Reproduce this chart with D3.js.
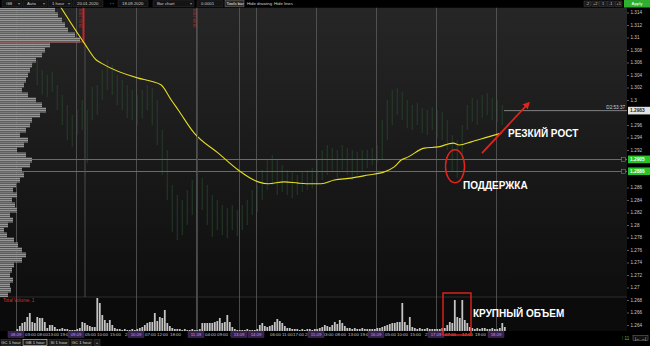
<!DOCTYPE html>
<html>
<head>
<meta charset="utf-8">
<title>GB 1 hour</title>
<script src="https://cdn.jsdelivr.net/npm/d3@7"></script>
<style>
  html, body { margin: 0; padding: 0; background: #000; }
  svg { display: block; font-family: "Liberation Sans", Arial, sans-serif; }
</style>
</head>
<body>
<svg id="chart" width="650" height="346"></svg>
<script>
// ---------- data ----------

// hourly bars, index 0 = 08.09 00:00; price bars every 2 hours
var barIndex = d3.range(0, 196, 2);
var barHigh = [1.3152,1.3144,1.3128,1.3096,1.3064,1.3048,1.3040,1.3045,1.3024,1.3008,
               1.2992,1.2976,1.2984,1.3000,1.2984,1.3021,1.3024,1.3048,1.3064,1.3056,
               1.3040,1.3032,1.3024,1.3016,1.3008,1.3016,1.3024,1.3019,1.3000,1.2952,
               1.2920,1.2864,1.2848,1.2840,1.2856,1.2872,1.2880,1.2875,1.2864,1.2848,
               1.2840,1.2832,1.2827,1.2832,1.2824,1.2832,1.2840,1.2856,1.2864,1.2888,
               1.2904,1.2912,1.2904,1.2896,1.2888,1.2885,1.2880,1.2885,1.2888,1.2891,
               1.2904,1.2920,1.2928,1.2923,1.2920,1.2928,1.2923,1.2920,1.2917,1.2920,
               1.2920,1.2923,1.2928,1.2968,1.3000,1.3016,1.3019,1.3013,1.3000,1.2992,
               1.2995,1.2987,1.2984,1.2989,1.2984,1.2981,1.2968,1.2944,1.2936,1.2960,
               1.2992,1.3003,1.3000,1.3008,1.3011,1.3003,1.3000,1.2992];
var barLow  = [1.3120,1.3112,1.3088,1.3056,1.3024,1.3008,1.3005,1.3013,1.2984,1.2960,
               1.2936,1.2925,1.2944,1.2952,1.2899,1.2968,1.2976,1.3000,1.3016,1.3008,
               1.2992,1.2984,1.2971,1.2968,1.2960,1.2971,1.2984,1.2960,1.2928,1.2880,
               1.2840,1.2789,1.2776,1.2784,1.2800,1.2816,1.2832,1.2824,1.2800,1.2781,
               1.2792,1.2784,1.2779,1.2792,1.2782,1.2792,1.2800,1.2816,1.2821,1.2840,
               1.2856,1.2864,1.2848,1.2853,1.2848,1.2843,1.2848,1.2853,1.2856,1.2859,
               1.2864,1.2872,1.2880,1.2885,1.2875,1.2888,1.2880,1.2872,1.2880,1.2885,
               1.2891,1.2896,1.2901,1.2904,1.2936,1.2960,1.2976,1.2968,1.2955,1.2952,
               1.2960,1.2947,1.2944,1.2952,1.2939,1.2936,1.2920,1.2885,1.2875,1.2904,
               1.2952,1.2965,1.2960,1.2971,1.2976,1.2968,1.2965,1.2960];

// hourly total volume (thousands)
var volume = [2,5,8,9,14,18,9,8,14,13,13,9,3,6,6,4,2,2,3,2,2,1,1,1,
              2,3,9,8,6,5,4,4,33,28,16,11,8,11,6,3,2,2,1,2,1,1,2,1,
              2,3,4,6,8,9,9,18,10,14,13,21,8,5,3,2,2,2,1,2,1,1,2,1,
              1,2,8,8,8,8,8,9,10,13,8,9,16,9,4,2,1,1,1,1,2,1,1,1,
              2,6,8,5,4,5,6,9,12,10,8,5,3,3,2,2,2,1,2,1,2,2,1,2,
              2,3,4,6,5,4,6,9,7,11,8,5,3,3,2,3,2,2,3,2,2,2,2,2,
              3,3,4,5,6,7,8,8,9,9,28,9,6,14,4,3,2,3,2,2,3,2,2,2,
              2,2,3,3,6,9,8,31,14,13,31,11,8,4,3,2,3,2,3,3,2,2,3,2,
              2,3,8,4];

// moving average (yellow)
var maIdx   = [15.6,26.8,31.6,33.6,48.4,53.6,57.6,61.6,64.4,70.8,80.4,88.4,96.4,100.4,106.8,112.4,
               117.6,121.6,126.8,133.6,140.4,146.8,150.8,153.6,156.4,162.8,168.4,174.4,176.8,181.6,188.4,193.6];
var maPrice = [1.3160,1.3091,1.3064,1.3059,1.3035,1.3030,1.3024,1.3000,1.2984,1.2947,1.2915,1.2888,1.2869,1.2866,1.2869,1.2867,
               1.2866,1.2866,1.2872,1.2875,1.2880,1.2885,1.2893,1.2904,1.2909,1.2923,1.2925,1.2931,1.2928,1.2933,1.2941,1.2947];

// volume profile on the left, buckets of 0.0008 starting at 1.3144 going down
var profileTop = 1.3144, profileStep = 0.0008;
var profileVol = [55,58,62,65,68,75,80,50,45,42,36,32,30,28,26,24,22,28,36,42,
                  46,40,32,30,26,20,28,24,17,26,32,30,22,24,20,16,13,17,12,15,
                  17,10,13,8,4,7,14,18,22,26,22,14,12,10,13,10,11,8];

var priceTicks = [1.264,1.266,1.268,1.27,1.272,1.274,1.276,1.278,1.28,1.282,1.284,1.286,1.288,
                  1.29,1.292,1.294,1.296,1.298,1.3,1.302,1.304,1.306,1.308,1.31,1.312,1.314];

var dayIdx    = [0, 24, 48, 72, 89, 96, 120, 144, 168, 192];
var dayLabels = ['08.09','09.09','10.09','11.09','13.09','14.09','15.09','16.09','17.09','18.09'];
var hourIdx    = [3.6,8.4,12.8,17.6,27.6,32.4,37.6,43.6,51.6,56.4,61.6,75.6,80.4,85.6,101.6,106.4,110.8,115.6,
                  122.6,127.6,132.8,137.6,147.6,152.4,157.6,163.6,171.6,178.4,183.6];
var hourLabels = ['03:00','08:00','13:00','19:00','05:00','10:00','15:00','21','07:00','12:00','18:00','04:00','09:00','14',
                  '06:00','11:00','17:00','23','03:00','08:00','13:00','19:00','05:00','10:00','15:00','21','07:00','12:00','18:00'];

var supportLevels = [1.2905, 1.2886];
var lastPrice = 1.2983, lastTime = 'D2:53:37';
var redLevel = 1.3093;
var markerIdx = [26.6, 72.4], markerText = ['20.01.2020', '18.09.2020'];

// ---------- layout ----------
var W = 650, H = 346;
var paneR = 627, paneT = 7.5, paneB = 297, volB = 331, axisB = 339;

var svg = d3.select('#chart');
var defs = svg.append('defs');

var bg = defs.append('linearGradient').attr('id', 'bgPrice')
    .attr('x1', 0).attr('y1', 0).attr('x2', 0).attr('y2', 1);
bg.append('stop').attr('offset', '0%').attr('stop-color', '#262626');
bg.append('stop').attr('offset', '100%').attr('stop-color', '#0e0e0e');

var pat = defs.append('pattern').attr('id', 'stripes')
    .attr('patternUnits', 'userSpaceOnUse').attr('width', 4).attr('height', 2);
pat.append('rect').attr('width', 4).attr('height', 1.2).attr('fill', '#969696');
pat.append('rect').attr('y', 1.2).attr('width', 4).attr('height', 0.8).attr('fill', '#6a6a6a');

defs.append('clipPath').attr('id', 'clipPrice').append('rect')
    .attr('x', 0).attr('y', paneT).attr('width', paneR).attr('height', paneB - paneT);
defs.append('clipPath').attr('id', 'clipVol').append('rect')
    .attr('x', 0).attr('y', paneB).attr('width', paneR).attr('height', volB - paneB);

var mk = defs.append('marker').attr('id', 'arrowHead').attr('viewBox', '0 0 10 10')
    .attr('refX', 6).attr('refY', 5).attr('markerWidth', 4).attr('markerHeight', 4)
    .attr('orient', 'auto');
mk.append('path').attr('d', 'M0,0 L10,5 L0,10 z').attr('fill', '#e3231c');

var x = d3.scaleLinear().domain([0, 196]).range([16, 506]);
var y = d3.scaleLinear().domain([1.264, 1.314]).range([325, 12.5]);
var vy = d3.scaleLinear().domain([0, 35]).range([volB, 296]);
var px = d3.scaleLinear().domain([0, 100]).range([0, 100]);
var half = 1.25;

// backgrounds
svg.append('rect').attr('width', W).attr('height', H).attr('fill', '#000');
svg.append('rect').attr('x', 0).attr('y', paneT).attr('width', paneR).attr('height', paneB - paneT)
    .attr('fill', 'url(#bgPrice)');
svg.append('rect').attr('x', 0).attr('y', paneB).attr('width', paneR).attr('height', volB - paneB)
    .attr('fill', '#0b0b0b');
svg.append('line').attr('x1', 0).attr('x2', paneR).attr('y1', paneB).attr('y2', paneB)
    .attr('stroke', '#2c2c2c');

// vertical day grid
svg.append('g').selectAll('line').data(dayIdx).enter().append('line')
    .attr('x1', function (d) { return Math.round(x(d)) + 0.5; })
    .attr('x2', function (d) { return Math.round(x(d)) + 0.5; })
    .attr('y1', paneT).attr('y2', volB)
    .attr('stroke', '#5c5c5c').attr('stroke-width', 0.8);

var price = svg.append('g').attr('clip-path', 'url(#clipPrice)');

// price bars
price.append('g').selectAll('line').data(barIndex).enter().append('line')
    .attr('x1', function (d) { return x(d) + half; })
    .attr('x2', function (d) { return x(d) + half; })
    .attr('y1', function (d, k) { return y(barHigh[k]); })
    .attr('y2', function (d, k) { return y(barLow[k]); })
    .attr('stroke', '#2a4d2e').attr('stroke-width', 0.7);

// volume profile
price.append('g').selectAll('rect').data(profileVol).enter().append('rect')
    .attr('x', 0)
    .attr('y', function (d, k) { return y(profileTop - k * profileStep) - 2.5; })
    .attr('width', function (d) { return px(d); })
    .attr('height', 5)
    .attr('fill', 'url(#stripes)');

// support lines
price.append('g').selectAll('rect').data(supportLevels).enter().append('rect')
    .attr('x', 0).attr('width', paneR)
    .attr('y', function (d) { return Math.round(y(d)); })
    .attr('height', 1)
    .attr('fill', '#3c8c32');

// red level
price.append('line').attr('x1', 0).attr('x2', x(markerIdx[0]))
    .attr('y1', y(redLevel)).attr('y2', y(redLevel))
    .attr('stroke', '#b03a3a').attr('stroke-width', 1);

// markers
markerIdx.forEach(function (m, k) {
    var mx = Math.round(x(m)) + 0.5;
    if (k === 0) {
        price.append('line').attr('x1', mx + 1.5).attr('x2', mx + 1.5).attr('y1', 43).attr('y2', paneB)
            .attr('stroke', '#5c5c5c').attr('stroke-width', 0.8);
        price.append('line').attr('x1', mx).attr('x2', mx).attr('y1', paneT).attr('y2', 43)
            .attr('stroke', '#c0282a').attr('stroke-width', 2);
    } else {
        svg.append('line').attr('x1', mx).attr('x2', mx).attr('y1', paneT).attr('y2', volB)
            .attr('stroke', '#8c2424').attr('stroke-width', 1);
    }
    svg.append('text').attr('transform', 'translate(' + (mx - 1.5) + ',' + (paneT + 1.5) + ') rotate(-90)')
        .attr('text-anchor', 'end').attr('font-size', 3.8).attr('fill', '#d23030')
        .text(markerText[k]);
});

// moving average
var maLine = d3.line()
    .x(function (d) { return x(d[0]) + half; })
    .y(function (d) { return y(d[1]); })
    .curve(d3.curveMonotoneX);
price.append('path').datum(d3.zip(maIdx, maPrice)).attr('d', maLine)
    .attr('fill', 'none').attr('stroke', '#e4dd22').attr('stroke-width', 1.1);

// last price line
svg.append('line').attr('x1', x(195.2)).attr('x2', paneR)
    .attr('y1', y(lastPrice)).attr('y2', y(lastPrice))
    .attr('stroke', '#9a9a9a').attr('stroke-width', 0.8);
svg.append('text').attr('x', paneR - 2).attr('y', y(lastPrice) - 2)
    .attr('text-anchor', 'end').attr('font-size', 4.6).attr('fill', '#cfcfcf').text(lastTime);

// checkbox squares on support lines
svg.append('g').selectAll('rect').data(supportLevels).enter().append('rect')
    .attr('x', paneR - 5.5).attr('y', function (d) { return y(d) - 2; })
    .attr('width', 4).attr('height', 4)
    .attr('fill', '#1a1a1a').attr('stroke', '#8a8a8a').attr('stroke-width', 0.5);

// volume pane
svg.append('g').attr('clip-path', 'url(#clipVol)').selectAll('rect').data(volume).enter().append('rect')
    .attr('x', function (d, i) { return x(i) + 0.4; })
    .attr('y', function (d) { return vy(d); })
    .attr('width', 1.8)
    .attr('height', function (d) { return volB - vy(d); })
    .attr('fill', '#c4c4c4');
svg.append('text').attr('x', 3).attr('y', 302).attr('font-size', 4.6).attr('fill', '#d03030')
    .text('Total Volume, 1');

// price axis (labels under the price boxes are hidden, as in the terminal)
var boxed = supportLevels.concat([lastPrice]);
var visibleTicks = priceTicks.filter(function (t) {
    return boxed.every(function (b) { return Math.abs(y(t) - y(b)) > 5; });
});
svg.append('rect').attr('x', paneR).attr('y', paneT).attr('width', W - paneR).attr('height', axisB - paneT)
    .attr('fill', '#000');
var ax = svg.append('g').attr('transform', 'translate(' + paneR + ',0)')
    .call(d3.axisRight(y).tickValues(visibleTicks).tickSize(2).tickPadding(1.5)
        .tickFormat(function (d) { return String(+d.toFixed(3)); }));
ax.select('.domain').remove();
ax.selectAll('line').attr('stroke', '#9a9a9a').attr('stroke-width', 0.6);
ax.selectAll('text').attr('font-size', 4.6).attr('fill', '#c8c8c8')
    .attr('font-family', '"Liberation Sans", Arial, sans-serif');

// price boxes on the axis
function axisBox(p, fill, color) {
    svg.append('rect').attr('x', paneR + 1).attr('y', y(p) - 3.8).attr('width', W - paneR - 1).attr('height', 7.6)
        .attr('fill', fill);
    svg.append('text').attr('x', paneR + 3).attr('y', y(p) + 1.8).attr('font-size', 4.8)
        .attr('font-weight', 'bold').attr('fill', color).text(p.toFixed(4));
}
supportLevels.forEach(function (p) { axisBox(p, '#27c427', '#ffffff'); });
axisBox(lastPrice, '#e2e2e2', '#222');

// time axis
svg.append('rect').attr('x', 0).attr('y', volB).attr('width', W).attr('height', H - volB).attr('fill', '#000');
svg.append('g').selectAll('text').data(hourIdx).enter().append('text')
    .attr('x', function (d) { return x(d); }).attr('y', 336)
    .attr('font-size', 4.4).attr('fill', '#c6c6c6')
    .text(function (d, k) { return hourLabels[k]; });
var dg = svg.append('g').selectAll('g').data(dayIdx).enter().append('g')
    .attr('transform', function (d) { return 'translate(' + Math.round(x(d)) + ',0)'; });
dg.append('rect').attr('x', -8).attr('y', 331.5).attr('width', 16).attr('height', 6)
    .attr('fill', '#36214a').attr('stroke', '#5a3a78').attr('stroke-width', 0.4);
dg.append('text').attr('y', 336.2).attr('text-anchor', 'middle').attr('font-size', 4.3)
    .attr('fill', '#cf94f5').text(function (d, k) { return dayLabels[k]; });

// bottom tabs
var tabs = [['GC 1 hour', 1, 20], ['GB 1 hour', 23, 24], ['SI 1 hour', 49, 20], ['GC 1 hour', 71, 21], ['+', 94, 6]];
var tg = svg.append('g').selectAll('g').data(tabs).enter().append('g');
tg.append('rect').attr('x', function (d) { return d[1]; }).attr('y', 339.5).attr('width', function (d) { return d[2]; })
    .attr('height', 6).attr('fill', '#1b1b1b')
    .attr('stroke', function (d, k) { return k === 1 ? '#e0e0e0' : '#3c3c3c'; }).attr('stroke-width', 0.6);
tg.append('text').attr('x', function (d) { return d[1] + d[2] / 2; }).attr('y', 344)
    .attr('text-anchor', 'middle').attr('font-size', 4.2).attr('fill', '#d8d8d8').text(function (d) { return d[0]; });
svg.append('text').attr('x', 622).attr('y', 340).attr('font-size', 4.6).attr('fill', '#46c646').text('⁞ 11');
svg.append('rect').attr('x', 633).attr('y', 335.5).attr('width', 15).attr('height', 5)
    .attr('fill', '#111').attr('stroke', '#777').attr('stroke-width', 0.5);
svg.append('text').attr('x', 640.5).attr('y', 339.6).attr('text-anchor', 'middle').attr('font-size', 4)
    .attr('fill', '#ddd').text('|← →|');

// toolbar
svg.append('rect').attr('width', W).attr('height', paneT).attr('fill', '#000');
var tools = [['GB', 2, 20, 1], ['Auto', 23, 24, 1], ['1 hour', 48, 24, 1], ['20.01.2020', 73, 30, 0],
             ['18.09.2020', 118, 30, 0], ['Bar chart', 153, 41, 1], ['0.0001', 197, 26, 0]];
var tb = svg.append('g').selectAll('g').data(tools).enter().append('g');
tb.append('rect').attr('x', function (d) { return d[1]; }).attr('y', 0.8).attr('width', function (d) { return d[2]; })
    .attr('height', 5.8).attr('fill', '#141414').attr('stroke', '#333').attr('stroke-width', 0.5);
tb.append('text').attr('x', function (d) { return d[1] + 4; }).attr('y', 5.2).attr('font-size', 4.3)
    .attr('fill', '#d0d0d0').text(function (d) { return d[0]; });
tb.filter(function (d) { return d[3]; }).append('text')
    .attr('x', function (d) { return d[1] + d[2] - 4; }).attr('y', 5.2).attr('font-size', 3.5)
    .attr('fill', '#888').text('▾');
svg.append('text').attr('x', 110).attr('y', 5.2).attr('font-size', 4).attr('fill', '#aaa').text('‹ ›');
svg.append('rect').attr('x', 225).attr('y', 0.6).attr('width', 19).attr('height', 6.2)
    .attr('fill', '#2a2a2a').attr('stroke', '#777').attr('stroke-width', 0.5);
svg.append('text').attr('x', 226.5).attr('y', 5.2).attr('font-size', 4.3).attr('fill', '#e8e8e8').text('Tools bar');
svg.append('text').attr('x', 247).attr('y', 5.2).attr('font-size', 4.3).attr('fill', '#d0d0d0').text('Hide drawing');
svg.append('text').attr('x', 274).attr('y', 5.2).attr('font-size', 4.3).attr('fill', '#d0d0d0').text('Hide lines');
var steps = ['-2', '+2', '1', '-1', '+1'];
var sg = svg.append('g').selectAll('g').data(steps).enter().append('g')
    .attr('transform', function (d, k) { return 'translate(' + (584 + k * 7.8) + ',0)'; });
sg.append('rect').attr('y', 1).attr('width', 6.8).attr('height', 5.5).attr('fill', '#1a1a1a')
    .attr('stroke', '#444').attr('stroke-width', 0.5);
sg.append('text').attr('x', 3.4).attr('y', 5.1).attr('text-anchor', 'middle').attr('font-size', 3.8)
    .attr('fill', '#ccc').text(function (d) { return d; });
svg.append('rect').attr('x', 624).attr('y', 0).attr('width', 26).attr('height', 7.5).attr('fill', '#2fae2f');
svg.append('text').attr('x', 637).attr('y', 5.3).attr('text-anchor', 'middle').attr('font-size', 4.4)
    .attr('fill', '#fff').text('Apply');

// annotations
var red = '#e3231c';
svg.append('line').attr('x1', x(186.4)).attr('y1', y(1.2915)).attr('x2', x(204.8)).attr('y2', y(1.2994))
    .attr('stroke', red).attr('stroke-width', 1.8).attr('marker-end', 'url(#arrowHead)');
svg.append('ellipse').attr('cx', x(175.6)).attr('cy', y(1.2894)).attr('rx', 9.5).attr('ry', 16.5)
    .attr('fill', 'none').attr('stroke', red).attr('stroke-width', 1.4);
svg.append('rect').attr('x', x(170.8)).attr('y', vy(38)).attr('width', x(182) - x(170.8)).attr('height', vy(-4) - vy(38))
    .attr('fill', 'none').attr('stroke', red).attr('stroke-width', 1.4);
var notes = [['РЕЗКИЙ РОСТ', x(196.8), y(1.29408)], ['ПОДДЕРЖКА', x(178.8), y(1.28576)],
             ['КРУПНЫЙ ОБЪЕМ', x(182.8), vy(14)]];
svg.append('g').selectAll('text').data(notes).enter().append('text')
    .attr('x', function (d) { return d[1]; }).attr('y', function (d) { return d[2]; })
    .attr('font-size', 10).attr('font-weight', 'bold').attr('fill', '#ffffff')
    .text(function (d) { return d[0]; });
</script>
</body>
</html>
